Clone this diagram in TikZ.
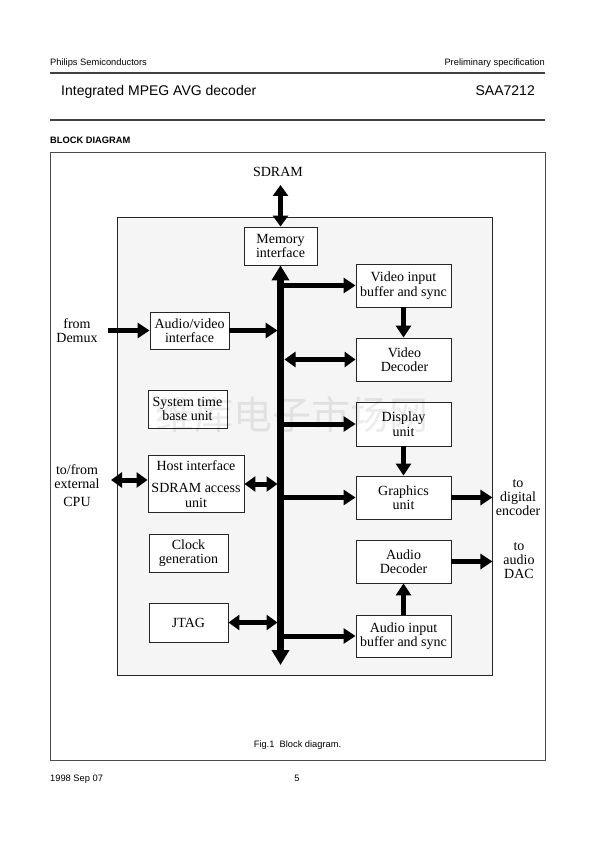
\documentclass[tikz,border=0pt]{standalone}
\usepackage{fontspec}
\setmainfont{Liberation Serif}
\newfontfamily\hdrfont{Liberation Sans}
\newfontfamily\cjk{Noto Sans CJK SC}
\usetikzlibrary{arrows.meta}
\tikzset{
  box/.style={draw=black!85, fill=white, line width=0.9pt, inner sep=0pt, align=center,
    font=\fontsize{14}{14.5}\selectfont},
  lbl/.style={inner sep=0pt, align=center, font=\fontsize{14}{14}\selectfont},
  hdr/.style={inner sep=0pt, font=\hdrfont\fontsize{9.3}{11}\selectfont},
  arr/.style={line width=5pt, -{Triangle[length=12pt,width=15pt]}},
  darr/.style={line width=5pt, {Triangle[length=11pt,width=15pt]}-{Triangle[length=11pt,width=15pt]}},
  busline/.style={line width=7pt, {Triangle[length=15pt,width=17pt]}-{Triangle[length=15pt,width=17pt]}},
  rule/.style={line width=1.1pt, draw=black!75}
}
\begin{document}
\begin{tikzpicture}[x=1pt,y=-1pt]
\useasboundingbox (0,0) rectangle (595,842);
% header
\node[hdr, anchor=base west] (hl) at (50,66) {Philips Semiconductors};
\node[hdr, anchor=base east] (hr) at (545,66) {Preliminary specification};
\draw[rule] (50,73) -- (545,73);
\node[inner sep=0pt, anchor=base west, font=\hdrfont\fontsize{14}{16}\selectfont] (title) at (61,96) {Integrated MPEG AVG decoder};
\node[inner sep=0pt, anchor=base east, font=\hdrfont\fontsize{14}{16}\selectfont] (part) at (535,96) {SAA7212};
\draw[rule] (50,120) -- (545,120);
\node[inner sep=0pt, anchor=base west, font=\hdrfont\bfseries\fontsize{9.3}{11}\selectfont] (sec) at (50,144) {BLOCK DIAGRAM};
% frame
\draw[line width=0.9pt, draw=black!70] (50,152) rectangle (545,760);
% chip
\node[draw=black!85, line width=0.9pt, fill=black!4, minimum width=375pt, minimum height=458pt, inner sep=0pt] (chip) at (304.5,446) {};
% blocks
\node[box, minimum width=73pt, minimum height=38pt] (memif) at (280.5,246) {Memory\\interface};
\node[box, minimum width=95pt, minimum height=43pt] (vib) at (403.5,285.5) {Video input\\buffer and sync};
\node[box, minimum width=95pt, minimum height=43pt] (vdec) at (403.5,359.5) {\hspace*{2pt}Video\\\hspace*{2pt}Decoder};
\node[box, minimum width=95pt, minimum height=44pt] (disp) at (403.5,424) {Display\\unit};
\node[box, minimum width=95pt, minimum height=43pt] (gfx) at (403.5,497.5) {Graphics\\unit};
\node[box, minimum width=95pt, minimum height=43pt] (adec) at (403.5,561.5) {Audio\\Decoder};
\node[box, minimum width=95pt, minimum height=42pt] (aib) at (403.5,636) {Audio input\\buffer and sync};
\node[box, minimum width=79pt, minimum height=37pt] (avif) at (189.5,330.5) {Audio/video\\interface};
\node[box, minimum width=79pt, minimum height=38pt] (stb) at (187.5,409) {System time\\base unit};
\node[box, minimum width=96pt, minimum height=57pt] (host) at (196,484) {Host interface\\[8pt]SDRAM access\\unit};
\node[box, minimum width=79pt, minimum height=38pt] (clk) at (188.5,553) {Clock\\generation};
\node[box, minimum width=79pt, minimum height=39pt] (jtag) at (188.5,622.5) {JTAG};
% outside labels
\node[lbl, anchor=base] (sdram) at (278,177) {SDRAM};
\node[lbl] (demux) at (77,331) {from\\Demux};
\node[lbl] (cpu) at (77,485.5) {to/from\\external\\[4pt]CPU};
\node[lbl] (enc) at (518,498) {to\\digital\\encoder};
\node[lbl] (dac) at (519,560.5) {to\\audio\\DAC};
% connectors
\coordinate (sdtop) at (280.5,185);
\coordinate (busbot) at (280.5,665);
\coordinate (demuxin) at (108,330.5);
\coordinate (cpuin) at (111,480);
\draw[darr] (sdtop) -- (memif.north);
\draw[arr] (memif.south |- vib.west) -- (vib.west);
\draw[darr] ([xshift=4pt]memif.south |- vdec.west) -- (vdec.west);
\draw[arr] (memif.south |- disp.west) -- (disp.west);
\draw[arr] (memif.south |- gfx.west) -- (gfx.west);
\draw[arr] (memif.south |- aib.west) -- (aib.west);
\draw[arr] (vib.south) -- (vdec.north);
\draw[arr] (disp.south) -- (gfx.north);
\draw[arr] (aib.north) -- (adec.south);
\draw[arr] (gfx.east) -- (gfx.east -| chip.east);
\draw[arr] (adec.east) -- (adec.east -| chip.east);
\draw[arr] (demuxin) -- (avif.west);
\draw[arr] (avif.east) -- ([xshift=-3pt]memif.south |- avif.east);
\draw[darr] (cpuin) -- (host.west |- cpuin);
\draw[darr] (host.east) -- ([xshift=-3pt]memif.south |- host.east);
\draw[darr] (jtag.east) -- ([xshift=-3pt]memif.south |- jtag.east);
\draw[busline] (memif.south) -- (busbot);
% caption and footer
\node[hdr, anchor=base] (cap) at (297.5,747) {Fig.1\ \ Block diagram.};
\node[hdr, anchor=base west] (date) at (50,781) {1998 Sep 07};
\node[hdr, anchor=base] (page) at (297,781) {5};
% watermark
\node[inner sep=0pt, font=\cjk\fontsize{39}{39}\selectfont, text=black, opacity=0.08] (wm) at (291.5,415) {维库电子市场网};
\end{tikzpicture}
\end{document}
